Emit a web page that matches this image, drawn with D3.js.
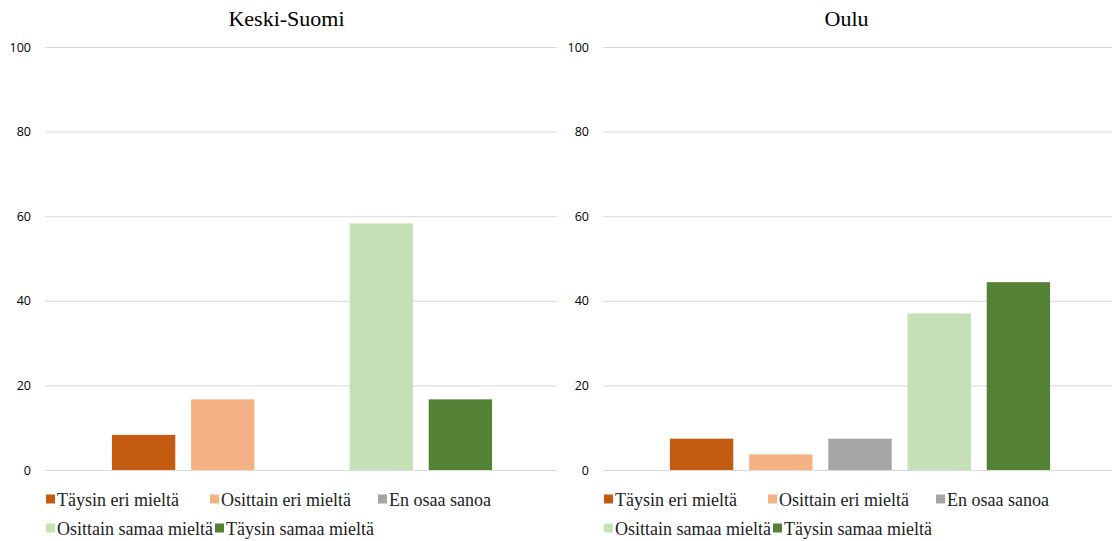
<!DOCTYPE html>
<html>
<head>
<meta charset="utf-8">
<script src="https://cdn.jsdelivr.net/npm/d3@7"></script>
</head>
<body style="margin:0;background:#fff">
<svg id="chart" width="1112" height="541" style="display:block"></svg>
<script>
// ---- Data ----
const series = ["Täysin eri mieltä", "Osittain eri mieltä", "En osaa sanoa", "Osittain samaa mieltä", "Täysin samaa mieltä"];
const colors = ["#C55A11", "#F4B183", "#A5A5A5", "#C5E0B4", "#548235"];
const panelTitles = ["Keski-Suomi", "Oulu"];
const keskiSuomiValues = [8.3, 16.7, 0, 58.3, 16.7];
const ouluValues = [7.4, 3.7, 7.4, 37.0, 44.4];
const yTicks = [0, 20, 40, 60, 80, 100];

// ---- Layout ----
const SERIF = "Liberation Serif";
const SANS = "Open Sans";
const svg = d3.select("#chart");
const panels = [
  { title: panelTitles[0], values: keskiSuomiValues, plotL: 45, plotR: 557, titleX: 286.5 },
  { title: panelTitles[1], values: ouluValues, plotL: 603, plotR: 1115, titleX: 846.5 }
];
const plotTop = 47, plotBottom = 470;
const y = d3.scaleLinear().domain([0, 100]).range([plotBottom, plotTop]);
const color = d3.scaleOrdinal().domain(series).range(colors);

const legendRows = [[0, 1, 2], [3, 4]];
const legendOffsets = [[1, 165, 333], [1, 170]];
const legendY = [499, 528];

panels.forEach(p => {
  const g = svg.append("g");
  g.append("text")
    .attr("x", p.titleX).attr("y", 26)
    .attr("text-anchor", "middle")
    .attr("font-family", SERIF)
    .attr("font-size", 22)
    .attr("fill", "#000")
    .text(p.title);

  const axis = d3.axisLeft(y).tickValues(yTicks)
    .tickSize(-(p.plotR - p.plotL)).tickPadding(14).tickFormat(d3.format("d"));
  const ag = g.append("g").attr("transform", `translate(${p.plotL},0)`).call(axis);
  ag.attr("font-family", SANS).attr("font-size", 12.5);
  ag.select(".domain").remove();
  ag.selectAll(".tick line").attr("stroke", "#D9D9D9").attr("stroke-width", 1);
  ag.selectAll(".tick text").attr("fill", "#000");

  const x = d3.scaleBand().domain(series)
    .range([p.plotL + 59, p.plotL + 455])
    .paddingInner(0.2).paddingOuter(0.1);
  g.selectAll("rect.bar").data(series.map((s, i) => ({ s, v: p.values[i] })))
    .join("rect")
    .attr("class", "bar")
    .attr("x", d => x(d.s))
    .attr("width", x.bandwidth())
    .attr("y", d => y(d.v))
    .attr("height", d => plotBottom - y(d.v))
    .attr("fill", d => color(d.s));

  legendRows.forEach((row, ri) => {
    row.forEach((si, k) => {
      const lx = p.plotL + legendOffsets[ri][k];
      const ly = legendY[ri];
      g.append("rect")
        .attr("x", lx).attr("y", ly - 4.5)
        .attr("width", 9).attr("height", 9)
        .attr("fill", colors[si]);
      g.append("text")
        .attr("x", lx + 11).attr("y", ly + 7)
        .attr("font-family", SERIF)
        .attr("font-size", 18)
        .attr("fill", "#222")
        .text(series[si]);
    });
  });
});
</script>
</body>
</html>
